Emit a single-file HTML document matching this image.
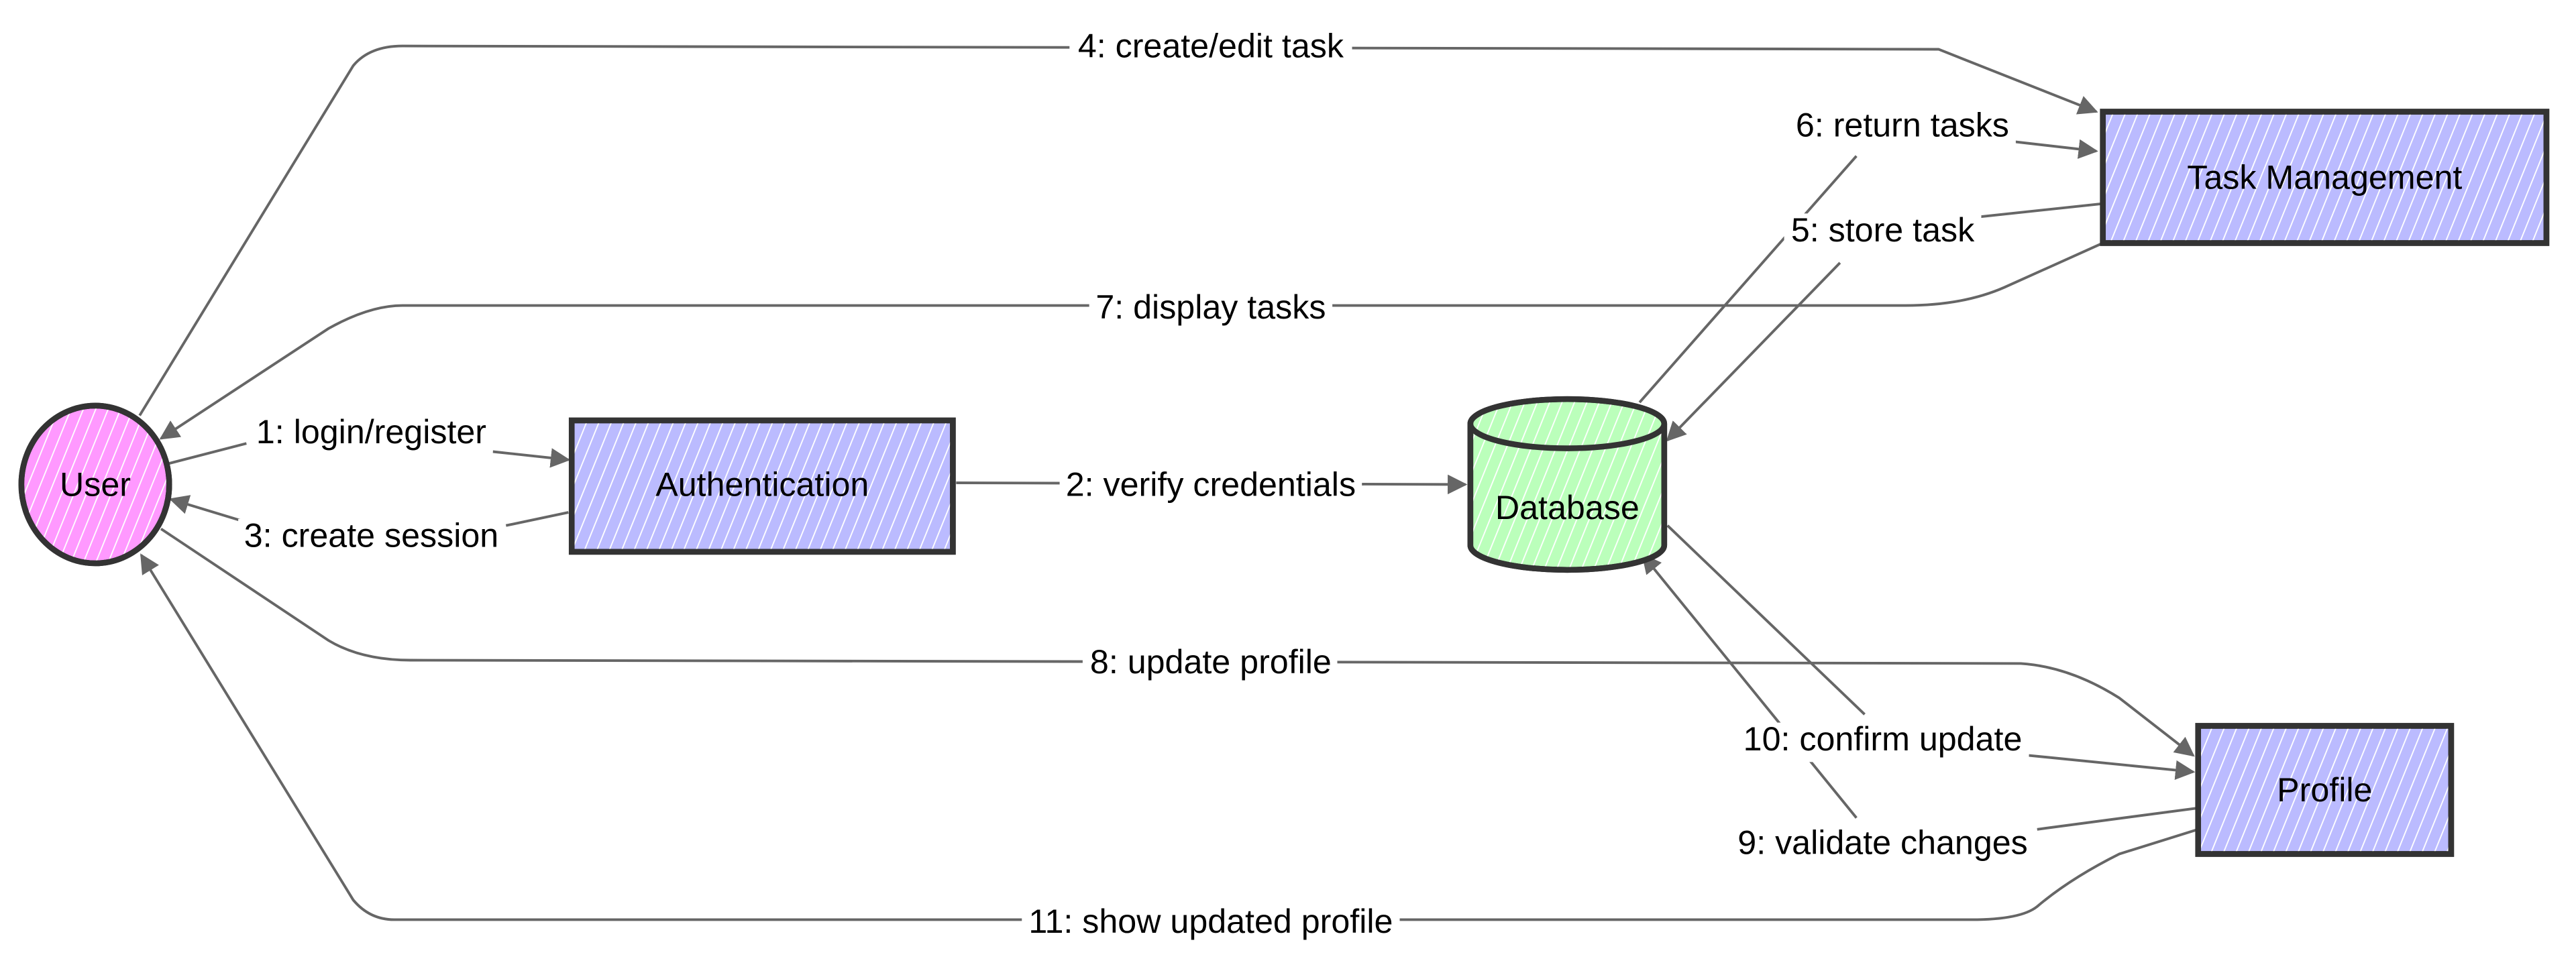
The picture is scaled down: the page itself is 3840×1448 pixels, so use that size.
<!DOCTYPE html>
<html><head><meta charset="utf-8"><style>
html,body{margin:0;padding:0;background:#fff;}
svg{display:block;}
text{font-family:"Liberation Sans",sans-serif;font-size:20.5px;fill:#000;}
</style></head><body>
<svg width="3840" height="1448" viewBox="0 0 1568 591.25" xmlns="http://www.w3.org/2000/svg">
<defs>
<pattern id="h" width="7" height="7" patternUnits="userSpaceOnUse" patternTransform="rotate(22)">
<rect width="7" height="7" fill="none"/><line x1="0" y1="0" x2="0" y2="7" stroke="#fff" stroke-width="1.5"/>
</pattern>
<marker id="a" viewBox="0 0 10 10" refX="9" refY="5" markerWidth="7.5" markerHeight="7.5" orient="auto-start-reverse">
<path d="M0,0 L10,5 L0,10 z" fill="#666"/>
</marker>
</defs>
<g fill="none" stroke="#666" stroke-width="1.6">
<path d="M85,253 L215,40 Q225,28 245,28 L1180,30 L1276,68" marker-end="url(#a)"/>
<path d="M998,245 L1130,95"/>
<path d="M1215,85 L1276,92" marker-end="url(#a)"/>
<path d="M1280,124 L1205,132"/>
<path d="M1120,160 L1015,268" marker-end="url(#a)"/>
<path d="M1280,148 L1220,175 Q1195,186 1160,186 L245,186 Q225,186 200,200 L98,267" marker-end="url(#a)"/>
<path d="M92,285 L150,270"/>
<path d="M300,275 L346,280" marker-end="url(#a)"/>
<path d="M346,312 L308,320"/>
<path d="M150,318 L104,304" marker-end="url(#a)"/>
<path d="M582,294 L892,295" marker-end="url(#a)"/>
<path d="M98,322 L200,390 Q220,402 250,402 L1230,404 Q1260,406 1290,425 L1335,460" marker-end="url(#a)"/>
<path d="M1015,320 L1135,435"/>
<path d="M1235,460 L1335,470" marker-end="url(#a)"/>
<path d="M1338,492 L1240,505"/>
<path d="M1130,498 L1000,338" marker-end="url(#a)"/>
<path d="M1338,505 L1290,520 Q1260,535 1240,552 Q1230,560 1200,560 L240,560 Q225,560 215,548 L86,338" marker-end="url(#a)"/>
</g>
<g fill="#fff">
<rect x="651" y="18" width="172" height="24"/>
<rect x="1089" y="66" width="138" height="24"/>
<rect x="1086" y="130" width="120" height="24"/>
<rect x="663" y="177" width="148" height="24"/>
<rect x="152" y="253" width="148" height="24"/>
<rect x="145" y="316" width="162" height="24"/>
<rect x="645" y="285" width="184" height="24"/>
<rect x="659" y="393" width="155" height="24"/>
<rect x="1057" y="440" width="178" height="24"/>
<rect x="1054" y="503" width="184" height="24"/>
<rect x="622" y="551" width="230" height="24"/>
</g>
<g text-anchor="middle">
<text x="737" y="35">4: create/edit task</text>
<text x="1158" y="83">6: return tasks</text>
<text x="1146" y="147">5: store task</text>
<text x="737" y="194">7: display tasks</text>
<text x="226" y="270">1: login/register</text>
<text x="226" y="333">3: create session</text>
<text x="737" y="302">2: verify credentials</text>
<text x="737" y="410">8: update profile</text>
<text x="1146" y="457">10: confirm update</text>
<text x="1146" y="520">9: validate changes</text>
<text x="737" y="568">11: show updated profile</text>
</g>
<g stroke="#333" stroke-width="3.5">
<ellipse cx="58" cy="295" rx="45" ry="48" fill="#ff99ff"/>
<ellipse cx="58" cy="295" rx="45" ry="48" fill="url(#h)" stroke="none"/>
<ellipse cx="58" cy="295" rx="45" ry="48" fill="none"/>
<rect x="348" y="256" width="232" height="80" fill="#bbbbff"/>
<rect x="348" y="256" width="232" height="80" fill="url(#h)"/>
<rect x="1280" y="68" width="270" height="80" fill="#bbbbff"/>
<rect x="1280" y="68" width="270" height="80" fill="url(#h)"/>
<rect x="1338" y="442" width="154" height="78" fill="#bbbbff"/>
<rect x="1338" y="442" width="154" height="78" fill="url(#h)"/>
<path d="M895,258 L895,332 A59,15 0 0 0 1013,332 L1013,258 A59,15 0 0 0 895,258 Z" fill="#bbffbb"/>
<path d="M895,258 L895,332 A59,15 0 0 0 1013,332 L1013,258 A59,15 0 0 0 895,258 Z" fill="url(#h)"/>
<path d="M895,258 A59,15 0 0 0 1013,258" fill="none"/>
</g>
<g text-anchor="middle">
<text x="58" y="302">User</text>
<text x="464" y="302">Authentication</text>
<text x="1415" y="115">Task Management</text>
<text x="1415" y="488">Profile</text>
<text x="954" y="316">Database</text>
</g>
</svg>
</body></html>
